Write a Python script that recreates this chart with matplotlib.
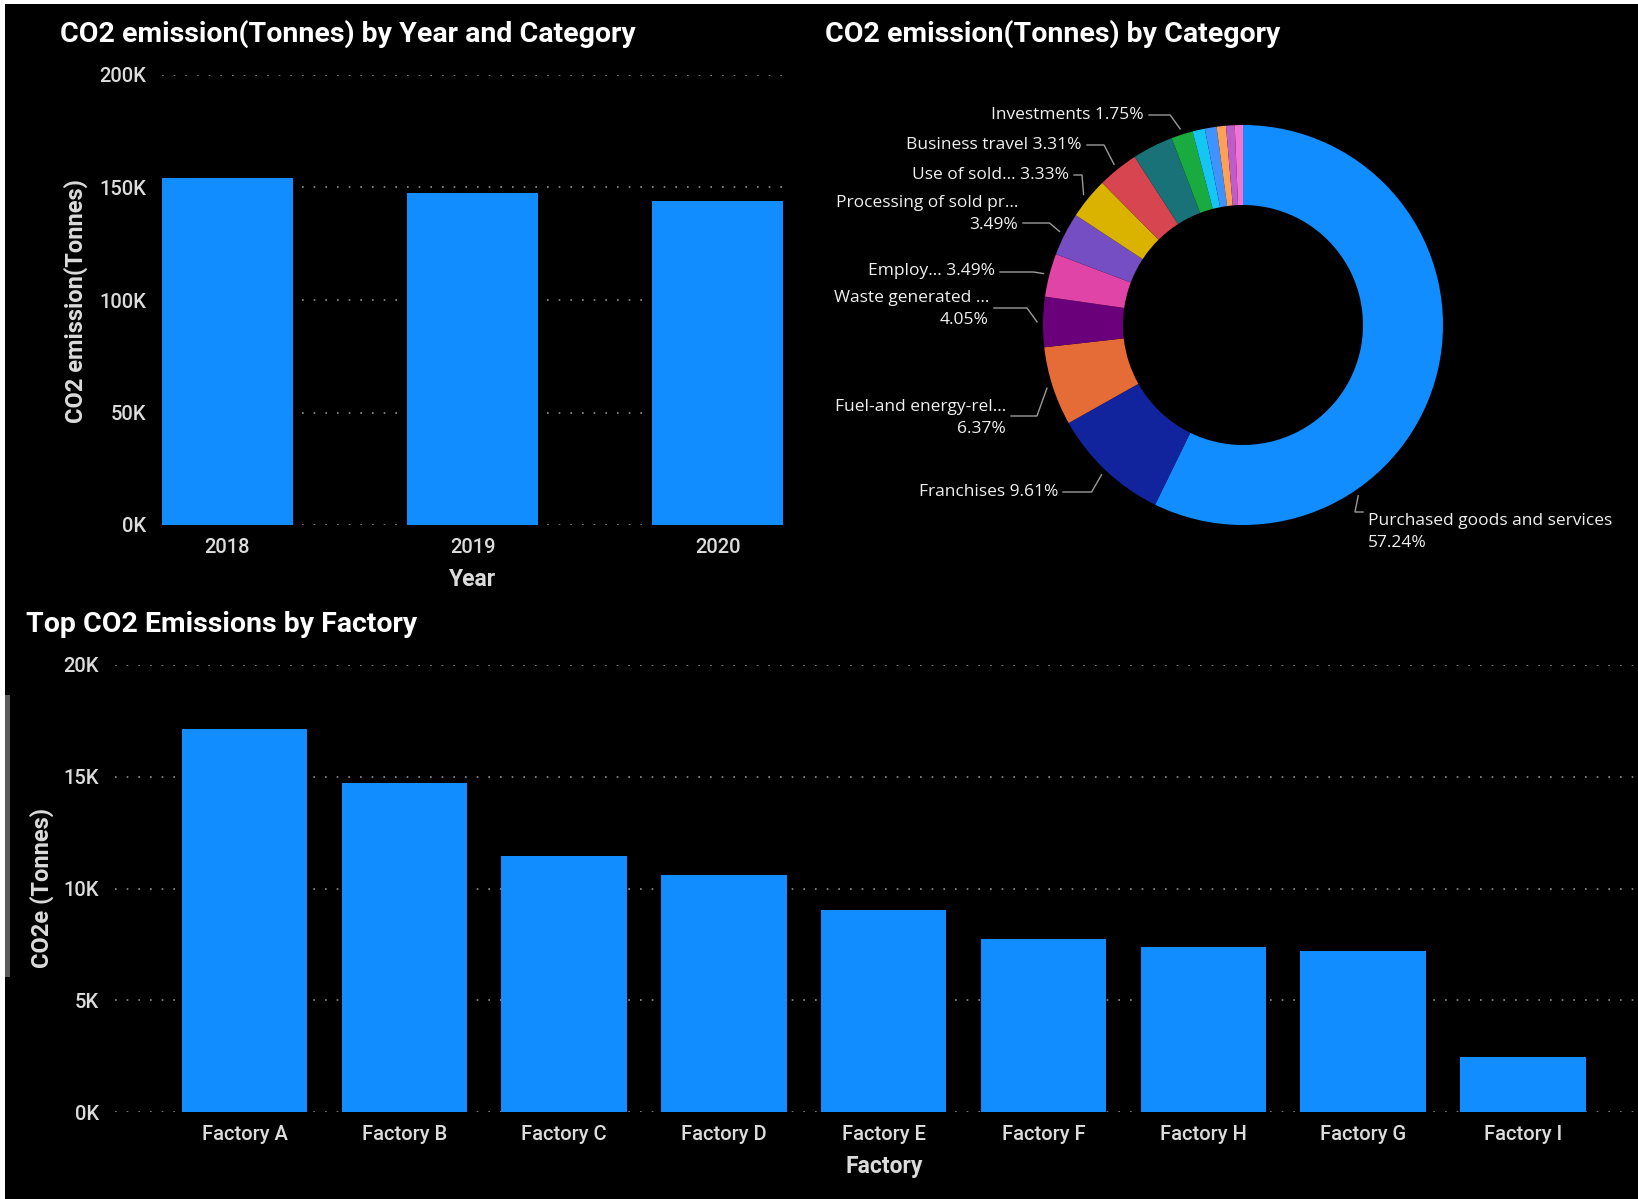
import matplotlib.pyplot as plt
from matplotlib.ticker import FuncFormatter
from matplotlib.patches import Rectangle
import numpy as np

# ---- data ----
years = ['2018', '2019', '2020']
year_emissions = [154000, 147600, 143900]

categories = ['Purchased goods and services', 'Franchises', 'Fuel-and energy-rel...',
              'Waste generated ...', 'Employ...', 'Processing of sold pr...', 'Use of sold...',
              'Business travel', 'Capital goods', 'Investments', 'Upstream transport',
              'Downstream transport', 'End-of-life treatment', 'Upstream leased assets',
              'Downstream leased assets']
category_share = [57.24, 9.61, 6.37, 4.05, 3.49, 3.49, 3.33, 3.31, 3.30, 1.75,
                  1.00, 0.95, 0.75, 0.70, 0.66]
category_colors = ['#118DFF', '#12239E', '#E66C37', '#6B007B', '#E044A7', '#744EC2',
                   '#D9B300', '#D64550', '#197278', '#1AAB40', '#15C6F4', '#4092FF',
                   '#FFA058', '#BE5DC9', '#F472D0']

factories = ['Factory A', 'Factory B', 'Factory C', 'Factory D', 'Factory E',
             'Factory F', 'Factory H', 'Factory G', 'Factory I']
factory_emissions = [17150, 14720, 11450, 10600, 9020, 7760, 7380, 7200, 2480]

BAR = '#118DFF'
TICK = '#dcdcdc'
W, H = 1638, 1199

plt.rcParams['font.family'] = ['Roboto', 'DejaVu Sans']

fig = plt.figure(figsize=(W / 100, H / 100), dpi=100, facecolor='white')
# dark canvas (screenshot has a thin white edge at top/left)
fig.patches.append(Rectangle((5 / W, 0), 1, 1 - 4 / H, transform=fig.transFigure,
                             facecolor='black', edgecolor='none', zorder=-10))
# little scrollbar on the left of the lower visual
fig.patches.append(Rectangle((5 / W, 1 - 977 / H), 5 / W, 282 / H, transform=fig.transFigure,
                             facecolor='#5a5a5a', edgecolor='none', zorder=-5))


def kfmt(v, _):
    return f"{int(round(v / 1000))}K"


def style_bar_axes(ax):
    ax.set_facecolor('none')
    for s in ax.spines.values():
        s.set_visible(False)
    ax.yaxis.set_major_formatter(FuncFormatter(kfmt))
    ax.tick_params(axis='both', length=0, colors=TICK, labelsize=14.5)
    ax.tick_params(axis='y', pad=11.5)
    ax.tick_params(axis='x', pad=9.5)
    for lab in ax.get_xticklabels() + ax.get_yticklabels():
        lab.set_fontweight('medium')
    ax.grid(axis='y', color='#8f8f8f', linestyle=(0, (1, 6)), linewidth=1.2)
    ax.set_axisbelow(True)


def frac(px_left, px_top, px_right, px_bottom):
    return [px_left / W, 1 - px_bottom / H, (px_right - px_left) / W, (px_bottom - px_top) / H]


# ---- top-left: by year ----
ax1 = fig.add_axes(frac(162, 75, 783, 525))
w1 = 0.534
ax1.bar(range(len(years)), year_emissions, width=w1, color=BAR)
ax1.set_xticks(range(len(years)))
ax1.set_xticklabels(years)
ax1.set_xlim(-w1 / 2, len(years) - 1 + w1 / 2)
ax1.set_ylim(0, 200000)
ax1.set_yticks([0, 50000, 100000, 150000, 200000])
style_bar_axes(ax1)

fig.text(60 / W, 1 - 34 / H, 'CO2 emission(Tonnes) by Year and Category', color='white',
         fontsize=20.5, fontweight='bold', va='center', ha='left')
fig.text(76 / W, 1 - 301 / H, 'CO2 emission(Tonnes)', color=TICK, fontsize=17,
         fontweight='bold', rotation=90, va='center', ha='center')
fig.text(473 / W, 1 - 580 / H, 'Year', color=TICK, fontsize=16.5, fontweight='bold',
         va='center', ha='center')

# ---- bottom: by factory ----
ax3 = fig.add_axes(frac(115, 665, 1638, 1112))
w3 = 0.784
ax3.bar(range(len(factories)), factory_emissions, width=w3, color=BAR)
ax3.set_xticks(range(len(factories)))
ax3.set_xticklabels(factories)
ax3.set_xlim(-0.81, 8.72)
ax3.set_ylim(0, 20000)
ax3.set_yticks([0, 5000, 10000, 15000, 20000])
style_bar_axes(ax3)

fig.text(26 / W, 1 - 625 / H, 'Top CO2 Emissions by Factory', color='white',
         fontsize=20.5, fontweight='bold', va='center', ha='left')
fig.text(42 / W, 1 - 888 / H, 'CO2e (Tonnes)', color=TICK, fontsize=17,
         fontweight='bold', rotation=90, va='center', ha='center')
fig.text(884 / W, 1 - 1167 / H, 'Factory', color=TICK, fontsize=16.5, fontweight='bold',
         va='center', ha='center')

# ---- top-right: donut ----
cx, cy, half = 1243, 325, 350
ax2 = fig.add_axes(frac(cx - half, cy - half, cx + half, cy + half))
ax2.pie(category_share, colors=category_colors, startangle=90, counterclock=False,
        radius=1, wedgeprops=dict(width=0.4, edgecolor='none'))
ax2.set_xlim(-1.75, 1.75)
ax2.set_ylim(-1.75, 1.75)
ax2.set_aspect('equal')
ax2.axis('off')

fig.text(825 / W, 1 - 34 / H, 'CO2 emission(Tonnes) by Category', color='white',
         fontsize=20.5, fontweight='bold', va='center', ha='left')

# label layout: index -> (text x, text y, leader y, ha, two lines, anchor angle override)
label_layout = {
    0: (0.625, -1.035, -0.935, 'left', True, 146),
    1: (-0.925, -0.835, -0.835, 'right', False, None),
    2: (-1.185, -0.465, -0.455, 'right', True, None),
    3: (-1.27, 0.08, 0.085, 'right', True, None),
    4: (-1.24, 0.27, 0.265, 'right', False, None),
    5: (-1.125, 0.555, 0.51, 'right', True, None),
    6: (-0.87, 0.75, 0.75, 'right', False, None),
    7: (-0.805, 0.90, 0.90, 'right', False, None),
    9: (-0.495, 1.05, 1.05, 'right', False, None),
}

cum = np.cumsum([0] + category_share[:-1])
for i, (lx, ly, lyl, ha, two, ang) in label_layout.items():
    name = categories[i]
    pct = f"{category_share[i]:.2f}%"
    txt = f"{name}\n{pct}" if two else f"{name} {pct}"
    ax2.text(lx, ly, txt, color='#f0f0f0', fontsize=12.5, ha=ha, va='center',
             family=['Open Sans', 'DejaVu Sans'], linespacing=1.55, multialignment=ha)
    theta = ang if ang is not None else (cum[i] + category_share[i] / 2) * 3.6
    px, py = 1.03 * np.sin(np.radians(theta)), 1.03 * np.cos(np.radians(theta))
    side = -1 if ha == 'right' else 1
    hx = lx - side * 0.025
    if side < 0:
        ex = max(px - 0.05, hx + 0.04)
    else:
        ex = min(px + 0.05, hx - 0.04)
    ax2.plot([px, ex, hx], [py, lyl, lyl], color='#9a9a9a', lw=1, clip_on=False)

fig.savefig('out.png', dpi=100, facecolor=fig.get_facecolor())
